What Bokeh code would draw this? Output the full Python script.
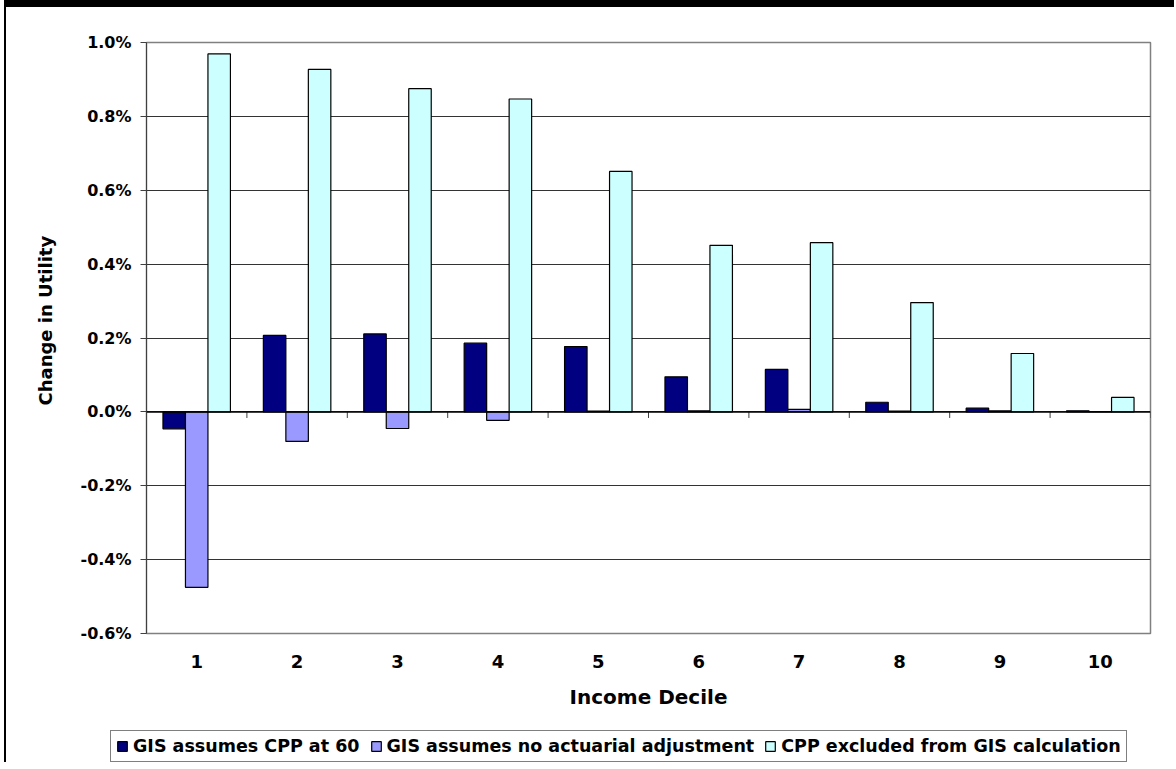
import numpy as np
from bokeh.plotting import figure
from bokeh.layouts import column
from bokeh.models import (Range1d, FixedTicker, PrintfTickFormatter, Legend, LegendItem,
                          Span, ColumnDataSource, Title)
from bokeh.transform import dodge
from bokeh.embed import file_html
from bokeh.resources import INLINE

# Change in utility (%) by income decile, for three GIS/CPP scenarios
deciles = ["1", "2", "3", "4", "5", "6", "7", "8", "9", "10"]
cpp_at_60 = [-0.046, 0.207, 0.211, 0.186, 0.177, 0.095, 0.115, 0.026, 0.010, 0.003]
no_actuarial = [-0.475, -0.080, -0.045, -0.023, 0.002, 0.003, 0.007, 0.002, 0.003, 0.001]
cpp_excluded = [0.969, 0.927, 0.875, 0.847, 0.651, 0.451, 0.458, 0.296, 0.158, 0.039]

series_names = ["GIS assumes CPP at 60", "GIS assumes no actuarial adjustment",
                "CPP excluded from GIS calculation"]
series_colors = ["#000080", "#9999FF", "#CCFFFF"]
series_cols = ["a", "b", "c"]
y_ticks = [-0.6, -0.4, -0.2, 0.0, 0.2, 0.4, 0.6, 0.8, 1.0]

FONT = "DejaVu Sans"
x_pos = np.arange(1, len(deciles) + 1)
src = ColumnDataSource(dict(x=x_pos, a=cpp_at_60, b=no_actuarial, c=cpp_excluded))

# ---- main chart -------------------------------------------------------------
p = figure(width=1170, height=708, output_backend="svg", toolbar_location=None,
           x_range=Range1d(0.5, len(deciles) + 0.5), y_range=Range1d(-0.6, 1.0),
           min_border_left=140, min_border_right=26, min_border_top=35, min_border_bottom=82)
p.frame_align = False
p.background_fill_color = "white"
p.border_fill_color = "white"
p.outline_line_color = "#808080"
p.outline_line_width = 1.5
# page frame: thick band on top, thin rule on the left
p.styles = {"border-top": "7px solid black", "border-left": "2px solid black",
            "margin-left": "4px"}

# horizontal gridlines
p.xgrid.visible = False
p.ygrid.ticker = FixedTicker(ticks=y_ticks)
p.ygrid.grid_line_color = "#333333"
p.ygrid.grid_line_width = 1

# y axis
p.yaxis.ticker = FixedTicker(ticks=y_ticks)
p.yaxis.formatter = PrintfTickFormatter(format="%.1f%%")
p.yaxis.axis_line_color = "#404040"
p.yaxis.major_tick_in = 0
p.yaxis.major_tick_out = 6
p.yaxis.major_tick_line_color = "#404040"
p.yaxis.minor_tick_line_color = None
p.yaxis.major_label_standoff = 9
p.yaxis.major_label_text_font = FONT
p.yaxis.major_label_text_font_style = "bold"
p.yaxis.major_label_text_font_size = "16px"
p.yaxis.major_label_text_color = "black"

# y axis title, placed a little above the frame's middle
ytitle = Title(text="Change in Utility", align="left", offset=228, standoff=44,
               text_font=FONT, text_font_style="bold", text_font_size="18px",
               text_color="black")
p.add_layout(ytitle, "left")

# x axis: labels only, the category axis line sits at zero
p.xaxis.ticker = FixedTicker(ticks=list(x_pos))
p.xaxis.major_label_overrides = {int(i): d for i, d in zip(x_pos, deciles)}
p.xaxis.axis_label = "Income Decile"
p.xaxis.axis_line_color = None
p.xaxis.major_tick_line_color = None
p.xaxis.minor_tick_line_color = None
p.xaxis.major_tick_out = 0
p.xaxis.major_label_standoff = 21
p.xaxis.major_label_text_font = FONT
p.xaxis.major_label_text_font_style = "bold"
p.xaxis.major_label_text_font_size = "18px"
p.xaxis.major_label_text_color = "black"
p.xaxis.axis_label_text_font = FONT
p.xaxis.axis_label_text_font_style = "bold"
p.xaxis.axis_label_text_font_size = "20px"
p.xaxis.axis_label_text_color = "black"
p.xaxis.axis_label_standoff = 14

# bars
bw = 0.224
offsets = [-bw, 0.0, bw]
for col, off, color in zip(series_cols, offsets, series_colors):
    p.vbar(x=dodge("x", off, range=p.x_range), top=col, bottom=0, width=bw, source=src,
           fill_color=color, line_color="black", line_width=1.2)

# category axis at zero with tick marks between deciles
p.add_layout(Span(location=0, dimension="width", line_color="black", line_width=1.5))
bounds = np.arange(0.5, len(deciles) + 1, 1.0)
p.segment(x0=bounds, y0=np.zeros_like(bounds), x1=bounds, y1=np.full_like(bounds, -0.0165),
          line_color="#404040", line_width=1)

# ---- legend strip -----------------------------------------------------------
# the same series are attached here (outside this strip's x range) only to feed
# the legend swatches
lg = figure(width=1170, height=54, output_backend="svg", toolbar_location=None,
            x_range=Range1d(-2, -1), y_range=Range1d(0, 1), x_axis_type=None, y_axis_type=None,
            min_border=0, min_border_left=0, min_border_right=0,
            min_border_top=0, min_border_bottom=0)
lg.frame_align = False
lg.grid.visible = False
lg.outline_line_color = None
lg.background_fill_color = "white"
lg.border_fill_color = "white"
lg.styles = {"border-left": "2px solid black", "margin-left": "4px"}

swatches = [lg.vbar(x="x", top=col, width=bw, source=src, fill_color=color,
                    line_color="black", line_width=1.2)
            for col, color in zip(series_cols, series_colors)]

legend = Legend(items=[LegendItem(label=n, renderers=[r]) for n, r in zip(series_names, swatches)],
                location=(104, 0), orientation="horizontal")
legend.label_text_font = FONT
legend.label_text_font_style = "bold"
legend.label_text_font_size = "17.5px"
legend.label_text_color = "black"
legend.glyph_width = 12
legend.glyph_height = 12
legend.label_standoff = 5
legend.spacing = 10
legend.padding = 5
legend.margin = 0
legend.label_height = 18
legend.border_line_color = "black"
legend.border_line_width = 1
legend.background_fill_color = "white"
legend.background_fill_alpha = 1
lg.add_layout(legend)

page = column(p, lg, spacing=0)
open("out.html", "w").write(file_html(page, INLINE))
